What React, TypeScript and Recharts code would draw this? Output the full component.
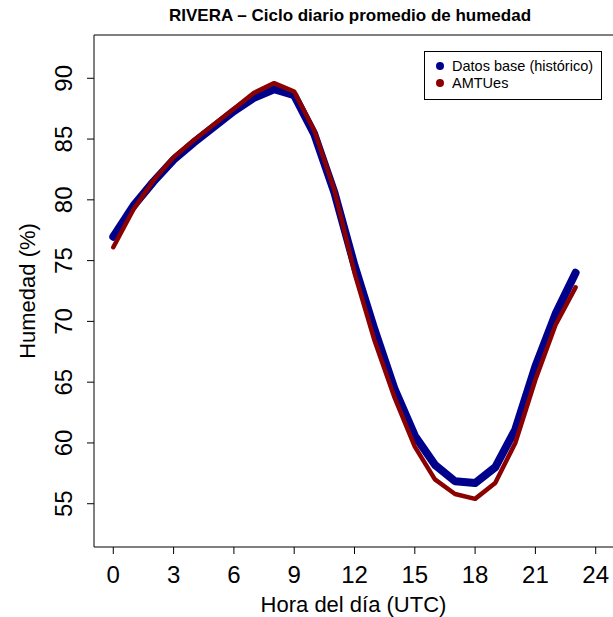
import { LineChart, Line, XAxis, YAxis, ReferenceArea } from 'recharts';

// Ciclo diario promedio de humedad (%) - RIVERA
const hours = [0, 1, 2, 3, 4, 5, 6, 7, 8, 9, 10, 11, 12, 13, 14, 15, 16, 17, 18, 19, 20, 21, 22, 23];
const baseHumidity = [
    76.97, 79.5, 81.5, 83.3, 84.7, 86.0, 87.3, 88.4, 89.1, 88.6, 85.4, 80.6,
    74.6, 69.3, 64.4, 60.6, 58.2, 56.85, 56.7, 58.0, 61.1, 66.3, 70.6, 74.0,
];
const amtuesHumidity = [
    76.1, 79.2, 81.6, 83.5, 84.9, 86.2, 87.5, 88.8, 89.6, 88.9, 85.7, 80.8,
    74.0, 68.4, 63.7, 59.7, 57.0, 55.8, 55.4, 56.7, 60.0, 65.2, 69.7, 72.8,
];
const xTicks = [0, 3, 6, 9, 12, 15, 18, 21, 24];
const yTicks = [55, 60, 65, 70, 75, 80, 85, 90];

// R style 4% extension around xlim c(0,24) and ylim c(53,92)
const X_DOMAIN: [number, number] = [-0.96, 24.96];
const Y_DOMAIN: [number, number] = [51.44, 93.56];

const FONT = '"Liberation Sans", Arial, Helvetica, sans-serif';
const BLUE = '#00008B';
const RED = '#8B0000';

const chartData = hours.map((h, i) => ({
    hour: h,
    base: baseHumidity[i],
    amtues: amtuesHumidity[i],
}));

const XTick = ({ x, y, payload }: any) => (
    <text x={x} y={y + 27} textAnchor="middle" fontSize={24} fontFamily={FONT} fill="#000">
        {payload.value}
    </text>
);

const YTick = ({ x, y, payload }: any) => {
    const bx = x - 13;
    return (
        <text
            x={bx}
            y={y}
            transform={`rotate(-90, ${bx}, ${y})`}
            textAnchor="middle"
            fontSize={24}
            fontFamily={FONT}
            fill="#000"
        >
            {payload.value}
        </text>
    );
};

export default function App() {
    return (
        <div
            style={{
                position: 'absolute',
                left: 0,
                top: 0,
                width: 613,
                height: 617,
                overflow: 'hidden',
                background: '#fff',
                fontFamily: FONT,
            }}
        >
            <LineChart
                width={616}
                height={617}
                data={chartData}
                margin={{ top: 35, right: 1, bottom: 0, left: 0 }}
            >
                <XAxis
                    dataKey="hour"
                    type="number"
                    domain={X_DOMAIN}
                    ticks={xTicks}
                    allowDataOverflow
                    axisLine={false}
                    tickLine={{ stroke: '#000' }}
                    tickSize={7}
                    height={70}
                    tick={<XTick />}
                    interval={0}
                    label={{
                        content: ({ viewBox }: any) => (
                            <text
                                x={viewBox.x + viewBox.width / 2 - 1}
                                y={viewBox.y + 65}
                                textAnchor="middle"
                                fontSize={22}
                                fontFamily={FONT}
                                fill="#000"
                            >
                                Hora del día (UTC)
                            </text>
                        ),
                    }}
                />
                <YAxis
                    type="number"
                    domain={Y_DOMAIN}
                    ticks={yTicks}
                    allowDataOverflow
                    axisLine={false}
                    tickLine={{ stroke: '#000' }}
                    tickSize={7}
                    width={94}
                    tick={<YTick />}
                    interval={0}
                    label={{
                        content: ({ viewBox }: any) => {
                            const cx = 35;
                            const cy = viewBox.y + viewBox.height / 2;
                            return (
                                <text
                                    x={cx}
                                    y={cy}
                                    transform={`rotate(-90, ${cx}, ${cy})`}
                                    textAnchor="middle"
                                    fontSize={22}
                                    fontFamily={FONT}
                                    fill="#000"
                                >
                                    Humedad (%)
                                </text>
                            );
                        },
                    }}
                />
                <ReferenceArea
                    x1={X_DOMAIN[0]}
                    x2={X_DOMAIN[1]}
                    y1={Y_DOMAIN[0]}
                    y2={Y_DOMAIN[1]}
                    fill="none"
                    fillOpacity={0}
                    stroke="#000"
                    strokeWidth={1}
                    ifOverflow="visible"
                />
                <Line
                    type="linear"
                    dataKey="base"
                    stroke={BLUE}
                    strokeWidth={8}
                    strokeLinecap="round"
                    strokeLinejoin="round"
                    dot={false}
                    activeDot={false}
                    isAnimationActive={false}
                />
                <Line
                    type="linear"
                    dataKey="amtues"
                    stroke={RED}
                    strokeWidth={4.5}
                    strokeLinecap="round"
                    strokeLinejoin="round"
                    dot={false}
                    activeDot={false}
                    isAnimationActive={false}
                />
            </LineChart>

            {/* titulo */}
            <div
                style={{
                    position: 'absolute',
                    left: 0,
                    top: 6,
                    width: 700,
                    textAlign: 'center',
                    fontSize: 17,
                    fontWeight: 'bold',
                    lineHeight: '20px',
                    color: '#000',
                }}
            >
                RIVERA – Ciclo diario promedio de humedad
            </div>

            {/* leyenda */}
            <div
                style={{
                    position: 'absolute',
                    left: 424,
                    top: 51,
                    width: 178,
                    height: 49,
                    border: '1px solid #000',
                    boxSizing: 'border-box',
                    background: '#fff',
                    paddingTop: 6,
                }}
            >
                {[
                    { name: 'Datos base (histórico)', color: BLUE },
                    { name: 'AMTUes', color: RED },
                ].map(item => (
                    <div
                        key={item.name}
                        style={{ display: 'flex', alignItems: 'center', height: 16.5, fontSize: 14.5 }}
                    >
                        <span
                            style={{
                                display: 'inline-block',
                                width: 8,
                                height: 8,
                                borderRadius: '50%',
                                background: item.color,
                                marginLeft: 11,
                                marginRight: 8,
                            }}
                        />
                        <span style={{ color: '#000', whiteSpace: 'nowrap' }}>{item.name}</span>
                    </div>
                ))}
            </div>
        </div>
    );
}
